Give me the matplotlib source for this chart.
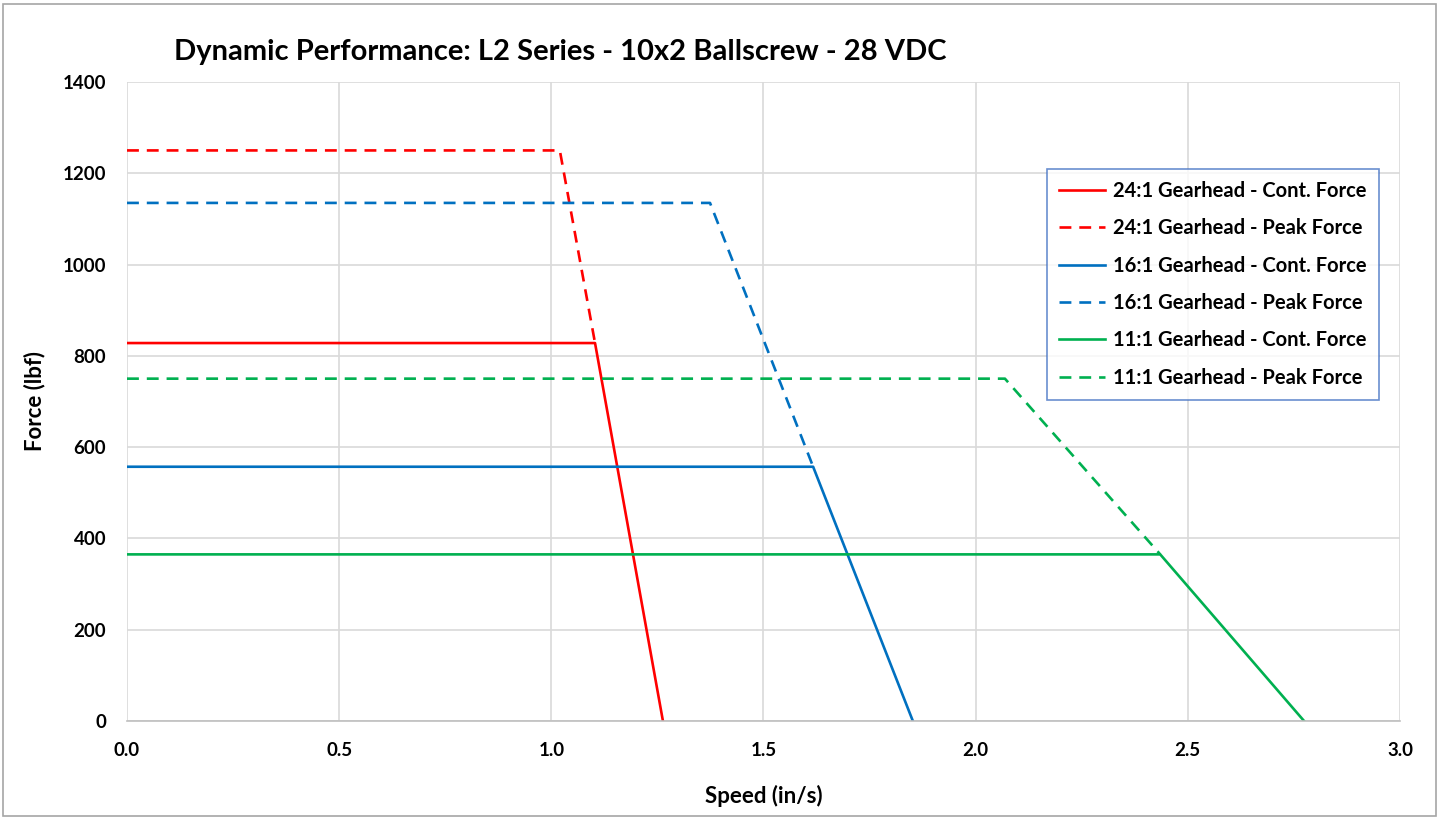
import matplotlib.pyplot as plt
from matplotlib.patches import Rectangle

plt.rcParams["font.family"] = ["Lato", "DejaVu Sans"]
plt.rcParams["font.weight"] = "bold"

# Speed (in/s) and force (lbf) break points
speed_24_cont = [0.0, 1.103, 1.263]
force_24_cont = [828, 828, 0]
speed_24_peak = [0.0, 1.02, 1.103]
force_24_peak = [1250, 1250, 828]

speed_16_cont = [0.0, 1.617, 1.852]
force_16_cont = [557, 557, 0]
speed_16_peak = [0.0, 1.374, 1.617]
force_16_peak = [1135, 1135, 557]

speed_11_cont = [0.0, 2.435, 2.774]
force_11_cont = [365, 365, 0]
speed_11_peak = [0.0, 2.069, 2.435]
force_11_peak = [750, 750, 365]

x_ticks = [0.0, 0.5, 1.0, 1.5, 2.0, 2.5, 3.0]
y_ticks = [0, 200, 400, 600, 800, 1000, 1200, 1400]

RED, BLUE, GREEN = "#FF0000", "#0070C0", "#00B050"

fig = plt.figure(figsize=(14.4, 8.18), dpi=100)
ax = fig.add_axes([0.0882, 0.1186, 0.884, 0.7812])

lw = 1.9
dash = (4.5, 3)
ax.plot(speed_24_cont, force_24_cont, color=RED, lw=lw, label="24:1 Gearhead - Cont. Force")
ax.plot(speed_24_peak, force_24_peak, color=RED, lw=lw, dashes=dash, label="24:1 Gearhead - Peak Force")
ax.plot(speed_16_cont, force_16_cont, color=BLUE, lw=lw, label="16:1 Gearhead - Cont. Force")
ax.plot(speed_16_peak, force_16_peak, color=BLUE, lw=lw, dashes=dash, label="16:1 Gearhead - Peak Force")
ax.plot(speed_11_cont, force_11_cont, color=GREEN, lw=lw, label="11:1 Gearhead - Cont. Force")
ax.plot(speed_11_peak, force_11_peak, color=GREEN, lw=lw, dashes=dash, label="11:1 Gearhead - Peak Force")

ax.set_xlim(0, 3.0)
ax.set_ylim(0, 1400)
ax.set_xticks(x_ticks)
ax.set_xticklabels([f"{v:.1f}" for v in x_ticks])
ax.set_yticks(y_ticks)
ax.grid(color="#D9D9D9", lw=1.2)
ax.set_axisbelow(True)
for side in ["top", "right", "left"]:
    ax.spines[side].set_visible(False)
ax.spines["bottom"].set_color("#BFBFBF")
ax.spines["bottom"].set_linewidth(1.2)
ax.tick_params(length=0, labelsize=13.5)
ax.tick_params(axis="x", pad=15)
ax.tick_params(axis="y", pad=15)

ax.set_xlabel("Speed (in/s)", fontsize=16, fontweight="bold")
ax.set_ylabel("Force (lbf)", fontsize=16, fontweight="bold")
ax.xaxis.set_label_coords(0.5, -0.100)
ax.yaxis.set_label_coords(-0.0644, 0.5)
fig.text(0.389, 0.936, "Dynamic Performance: L2 Series - 10x2 Ballscrew - 28 VDC",
         ha="center", va="center", fontsize=21, fontweight="bold")

leg = ax.legend(loc="upper left", bbox_to_anchor=(0.7227, 0.864), borderaxespad=0,
                fontsize=14.5, frameon=True, fancybox=False, handlelength=2.3,
                labelspacing=0.86, borderpad=0.6, handletextpad=0.4)
leg.get_frame().set_edgecolor("#4472C4")
leg.get_frame().set_linewidth(1.2)

fig.patches.append(Rectangle((0.002, 0.002), 0.995, 0.993, transform=fig.transFigure,
                             fill=False, edgecolor="#A6A6A6", lw=1.2))

fig.savefig("out.png", dpi=100)
